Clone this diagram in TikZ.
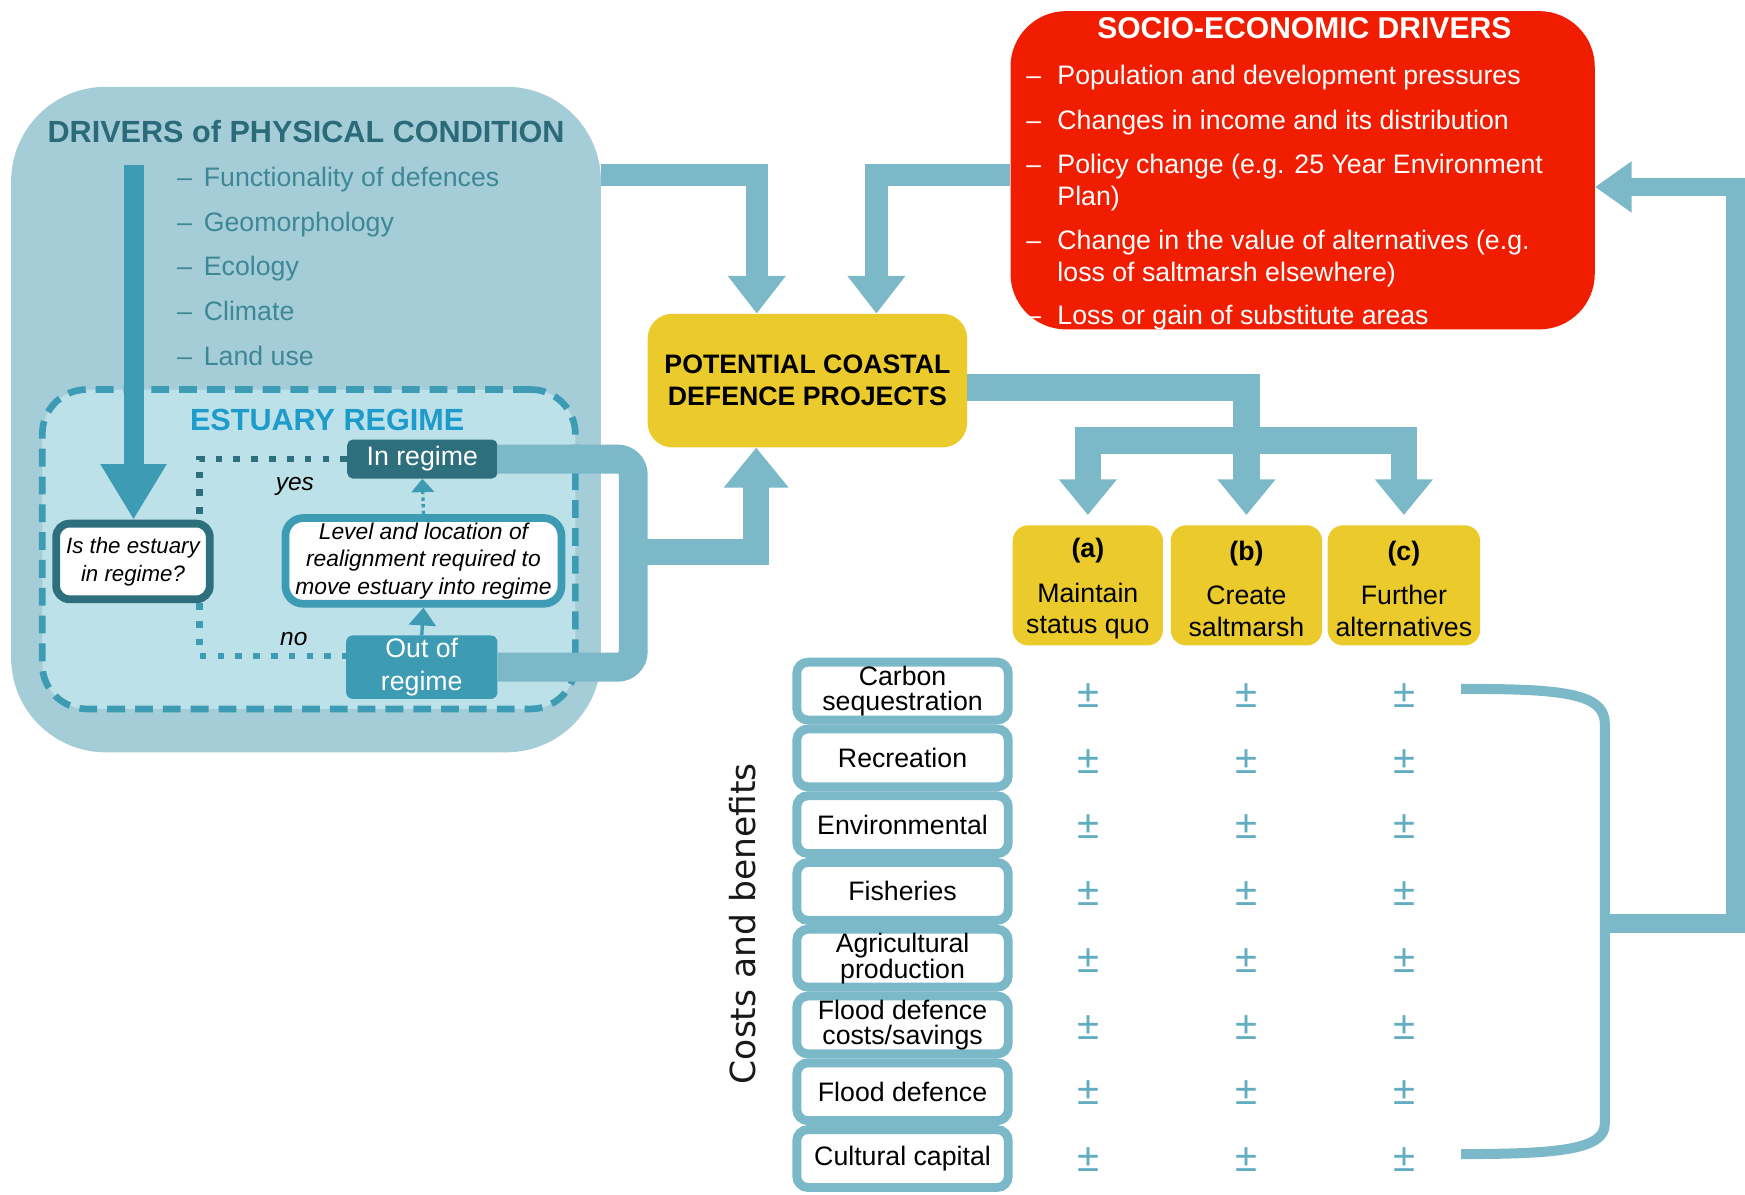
\documentclass[tikz,border=0pt]{standalone}
\usepackage{fontspec}
\setmainfont{Liberation Sans}
\newfontfamily\cbfont{DejaVu Sans}
\usetikzlibrary{arrows.meta,calc}
\definecolor{physbg}{HTML}{A5CDD7}
\definecolor{estbg}{HTML}{BDE1E9}
\definecolor{midteal}{HTML}{3D9BB4}
\definecolor{darkteal}{HTML}{2E6F7D}
\definecolor{titleteal}{HTML}{2B6B79}
\definecolor{lightteal}{HTML}{7BB8C8}
\definecolor{listteal}{HTML}{3E8797}
\definecolor{redbox}{HTML}{F01D00}
\definecolor{yel}{HTML}{EBCA2B}
\definecolor{estblue}{HTML}{1D9BCB}
\definecolor{pmcol}{HTML}{62ADC1}
\newcommand\fsz[2]{\fontsize{#1}{#2}\selectfont}
\tikzset{
  listitem/.style={anchor=base west, inner sep=0pt, text=listteal, font=\fsz{24}{28}},
  reditem/.style={anchor=base west, inner sep=0pt, text=white, font=\fsz{24}{28.5}},
  optbox/.style={fill=yel, rounded corners=14pt, minimum height=108pt, inner sep=0pt, align=center, font=\fsz{24}{28}},
  rowbox/.style={draw=lightteal, line width=8pt, fill=white, rounded corners=10pt, minimum width=190pt, minimum height=52pt, inner sep=0pt, align=center, font=\fsz{24}{22}},
  pm/.style={text=pmcol, font=\fsz{36}{36}, inner sep=0pt},
  band/.style={draw=lightteal, line width=#1, line join=miter},
  dotline/.style={line width=6pt, dash pattern=on 6pt off 10pt},
}
\begin{document}
\begin{tikzpicture}[x=1pt,y=-1pt]
\useasboundingbox (0,0) rectangle (1568,1073);
\fill[white] (0,0) rectangle (1568,1073);

% ---------- physical condition ----------
\node[fill=physbg, minimum width=530pt, minimum height=598pt, rounded corners=85pt, inner sep=0pt] (phys) at (275,377) {};
\node[fill=estbg, draw=midteal, line width=6pt, dash pattern=on 16pt off 9pt, minimum width=479pt, minimum height=287pt, rounded corners=40pt, inner sep=0pt] (est) at (277.5,493.5) {};

\node[anchor=base, inner sep=0pt, text=titleteal, font=\fsz{27.5}{33}\bfseries] (phystitle) at (275,128) {DRIVERS of PHYSICAL CONDITION};
\foreach \t [count=\i] in {Functionality of defences, Geomorphology, Ecology, Climate, Land use}
  \node[listitem] (pl\i) at (159,{128+40*\i}) {\makebox[24pt][l]{–}\t};

\node[anchor=base, inner sep=0pt, text=estblue, font=\fsz{27.5}{33}\bfseries] (esttitle) at (294,387) {ESTUARY REGIME};

\node[draw=darkteal, fill=white, line width=7pt, rounded corners=12pt, minimum width=138pt, minimum height=68pt, inner sep=0pt, align=center, font=\fsz{20}{25}\itshape] (isest) at (119.5,504.5) {Is the estuary\\in regime?};
\node[draw=midteal, fill=white, line width=7pt, rounded corners=16pt, minimum width=248pt, minimum height=77pt, inner sep=0pt, align=center, font=\fsz{20.5}{24.5}\itshape] (level) at (380.5,504) {Level and location of\\realignment required to\\move estuary into regime};
\node[fill=darkteal, text=white, rounded corners=5pt, minimum width=135pt, minimum height=35pt, inner sep=0pt, font=\fsz{24}{28}] (inreg) at (379.5,412.5) {In regime};
\node[fill=midteal, text=white, rounded corners=6pt, minimum width=136pt, minimum height=57pt, inner sep=0pt, align=center, font=\fsz{24}{30}] (outreg) at (379,599.5) {Out of\\regime};
\node[anchor=base, font=\fsz{22}{26}\itshape, inner sep=0pt] (yes) at (265,441) {yes};
\node[anchor=base, font=\fsz{22}{26}\itshape, inner sep=0pt] (no) at (264,580) {no};

% ---------- potential projects ----------
\node[fill=yel, rounded corners=22pt, minimum width=287pt, minimum height=120pt, inner sep=0pt, align=center, font=\fsz{24}{29}\bfseries] (pot) at (725.5,342) {POTENTIAL COASTAL\\DEFENCE PROJECTS};

% ---------- socio-economic ----------
\node[fill=redbox, rounded corners=50pt, minimum width=525pt, minimum height=286pt, inner sep=0pt] (red) at (1170.5,153) {};
\node[anchor=base, text=white, font=\fsz{27}{32}\bfseries, inner sep=0pt] (redtitle) at (1172,35) {SOCIO-ECONOMIC DRIVERS};
\node[reditem] (r1) at (922,76) {\makebox[28pt][l]{–}Population and development pressures};
\node[reditem] (r2) at (922,116) {\makebox[28pt][l]{–}Changes in income and its distribution};
\node[reditem] (r3) at (922,156) {\makebox[28pt][l]{–}\parbox[t]{480pt}{Policy change (e.g. 25 Year Environment\\Plan)}};
\node[reditem] (r4) at (922,224) {\makebox[28pt][l]{–}\parbox[t]{480pt}{Change in the value of alternatives (e.g.\\loss of saltmarsh elsewhere)}};
\node[reditem] (r5) at (922,292) {\makebox[28pt][l]{–}Loss or gain of substitute areas};

% ---------- options ----------
\node[optbox, minimum width=135pt] (a) at (977.5,526) {};
\node[optbox, minimum width=136pt] (b) at (1120,526) {};
\node[optbox, minimum width=137pt] (c) at (1261.5,526) {};
\node[anchor=center, inner sep=0pt, align=center, font=\fsz{24}{28}] (at) at (977.5,529) {{\bfseries (a)}\\[12pt]Maintain\\status quo};
\node[anchor=center, inner sep=0pt, align=center, font=\fsz{24}{28}] (bt) at (1120,529) {{\bfseries (b)}\\[12pt]Create\\saltmarsh};
\node[anchor=center, inner sep=0pt, align=center, font=\fsz{24}{28}] (ct) at (1261.5,529) {{\bfseries (c)}\\[12pt]Further\\alternatives};

% ---------- costs and benefits ----------
\node[rowbox] (cb1) at (811,621) {Carbon\\sequestration};
\node[rowbox] (cb2) at (811,681) {Recreation};
\node[rowbox] (cb3) at (811,741) {Environmental};
\node[rowbox] (cb4) at (811,801) {Fisheries};
\node[rowbox] (cb5) at (811,861) {Agricultural\\production};
\node[rowbox] (cb6) at (811,921) {Flood defence\\costs/savings};
\node[rowbox] (cb7) at (811,981) {Flood defence};
\node[rowbox] (cb8) at (811,1041) {Cultural capital};
\foreach \x [count=\c] in {978,1120,1262}
  \foreach \y [count=\r] in {625,684,743,803,863,923,982,1042}
    \node[pm] (pm\c-\r) at (\x,\y) {±};
\node[rotate=90, inner sep=0pt, text=black!90, font=\cbfont\fsz{31}{36}] (cbtitle) at (667,830) {Costs and benefits};

% ---------- connectors ----------
\coordinate (physout) at (540,157);
\coordinate (redout) at ($(red.west)+(0,4)$);
\coordinate (vtop) at (120,148);
\coordinate (brk) at (569,496);
\coordinate (split) at (1120,396);
\coordinate (fb) at (1442,830);
\coordinate (brtop) at (1313,619);
\coordinate (brbot) at (1313,1037);

\draw[band=20pt, -{Triangle[length=34pt,width=50pt]}] (physout) -| ($(pot.north)+(-45.5,0)$);
\draw[band=20pt, -{Triangle[length=34pt,width=50pt]}] (redout) -| ($(pot.north)+(62,0)$);

\draw[draw=midteal, line width=18pt, -{Triangle[length=50pt,width=56pt]}] (vtop) -- (vtop |- isest.north);

\draw[band=26pt, rounded corners=14pt] (inreg.east) -- (569,412.5) -- (569,599.5) -- (outreg.east);
\draw[band=23pt, -{Triangle[length=36pt,width=56pt]}] (brk) -| ($(pot.south)+(-46,0)$);

\draw[dotline, draw=darkteal] (inreg.west) -| ($(isest.north east)+(-13,0)$);
\draw[dotline, draw=midteal] ($(isest.south east)+(-13,0)$) |- ($(outreg.west)+(0,-10)$);
\draw[draw=midteal, line width=3pt, dash pattern=on 3pt off 3pt, -{Triangle[length=12pt,width=20pt]}] (level.north) -- (inreg.south);
\draw[draw=midteal, line width=3pt, -{Triangle[length=16pt,width=24pt]}] (outreg.north) -- (level.south);

\draw[band=24pt, shorten >=9pt, -{Triangle[length=32pt,width=50pt]}] ($(pot.east)+(0,6)$) -| (b.north);
\draw[band=24pt, shorten >=9pt, -{Triangle[length=32pt,width=50pt]}] (split) -| (a.north);
\draw[band=24pt, shorten >=9pt, -{Triangle[length=32pt,width=50pt]}] (split) -| (c.north);

\draw[draw=lightteal, line width=9pt] (brtop) .. controls (1400,619) and (1442,622) .. (1442,650) -- (1442,1010) .. controls (1442,1033) and (1400,1037) .. (brbot);
\draw[band=17pt, -{Triangle[length=33pt,width=44pt]}] (fb) -| ($(red.east)+(126,15)$) -- ($(red.east)+(0,15)$);
\end{tikzpicture}
\end{document}
